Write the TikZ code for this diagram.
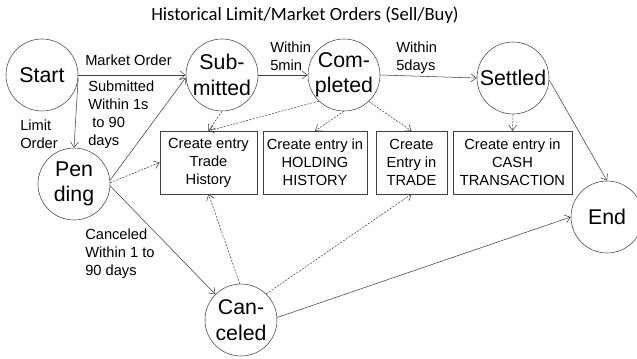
\documentclass[tikz,border=0pt]{standalone}
\usepackage{fontspec}
\setmainfont{Liberation Sans}
\newfontfamily\titlefont{Carlito}
\usetikzlibrary{arrows.meta}

\definecolor{edgegray}{HTML}{404040}

\tikzset{
  state/.style={circle, draw=edgegray, minimum size=54pt, inner sep=-2pt,
    align=center, font=\fontsize{16}{19}\selectfont},
  entry/.style={rectangle, draw=edgegray, minimum height=47pt, inner sep=1pt,
    align=center, font=\fontsize{11}{13.5}\selectfont},
  note/.style={anchor=north west, align=left, inner sep=0pt,
    font=\fontsize{11}{13.5}\selectfont},
  trans/.style={draw=edgegray, -{Straight Barb[length=4pt,width=6pt]}},
  record/.style={trans, dash pattern=on 1.5pt off 1pt},
}

\begin{document}
\begin{tikzpicture}[x=0.75pt, y=-0.75pt]
    \useasboundingbox (0,0) rectangle (637,358);

    \node[font=\titlefont\fontsize{14}{16}\selectfont] (title) at (305,15)
        {Historical Limit/Market Orders (Sell/Buy)};

    % order states
    \node[state] (start) at (42,75)  {Start};
    \node[state] (sub)   at (222,75) {Sub-\\mitted};
    \node[state] (com)   at (344,75) {Com-\\pleted};
    \node[state] (set)   at (513,78) {Settled};
    \node[state] (pend)  at (74,184) {Pen\\ding};
    \node[state] (canc)  at (241,320) {Can-\\celed};
    \node[state] (end)   at (607,217) {End};

    % history records
    \node[entry, minimum width=72.75pt] (th)   at (208.5,162.5) {Create entry\\Trade\\History};
    \node[entry, minimum width=78pt]    (hh)   at (315,162.5)   {Create entry in\\HOLDING\\HISTORY};
    \node[entry, minimum width=53.25pt] (tr)   at (411.5,162.5) {Create\\Entry in\\TRADE};
    \node[entry, minimum width=89.25pt] (cash) at (512.5,162.5) {Create entry in\\CASH\\TRANSACTION};

    % transitions
    \draw[trans] (start.east) -- (sub.west);
    \draw[trans] (start.-4) -- (pend.north);
    \draw[trans] (pend.6) -- (sub.184);
    \draw[trans] (sub.east) -- (com.west);
    \draw[trans] (com.east) -- (set.west);
    \draw[trans] (set.-3) -- (end.north);
    \draw[trans] (pend.-3) -- (canc.135);
    \draw[trans] (canc.4) -- (end.west);

    % records written on the way
    \draw[record] (sub.south) -- (th.north);
    \draw[record] (com.-134) -- (th.north);
    \draw[record] (com.south) -- (hh.north);
    \draw[record] (com.-47) -- (tr.north);
    \draw[record] (set.south) -- (cash.north);
    \draw[record] (pend.2) -- (th.west);
    \draw[record] (canc.92) -- (th.south);
    \draw[record] (canc.46) -- (tr.south);

    % labels
    \node[note] (lmarket) at (85,55)  {Market Order};
    \node[note] (lsubm)   at (88,81)  {Submitted\\Within 1s\\\ to 90\\days};
    \node[note] (llimit)  at (20,120) {Limit\\Order};
    \node[note] (l5min)   at (270,42) {Within\\5min};
    \node[note] (l5days)  at (396,42) {Within\\5days};
    \node[note] (lcanc)   at (85,229) {Canceled\\Within 1 to\\90 days};
\end{tikzpicture}
\end{document}
